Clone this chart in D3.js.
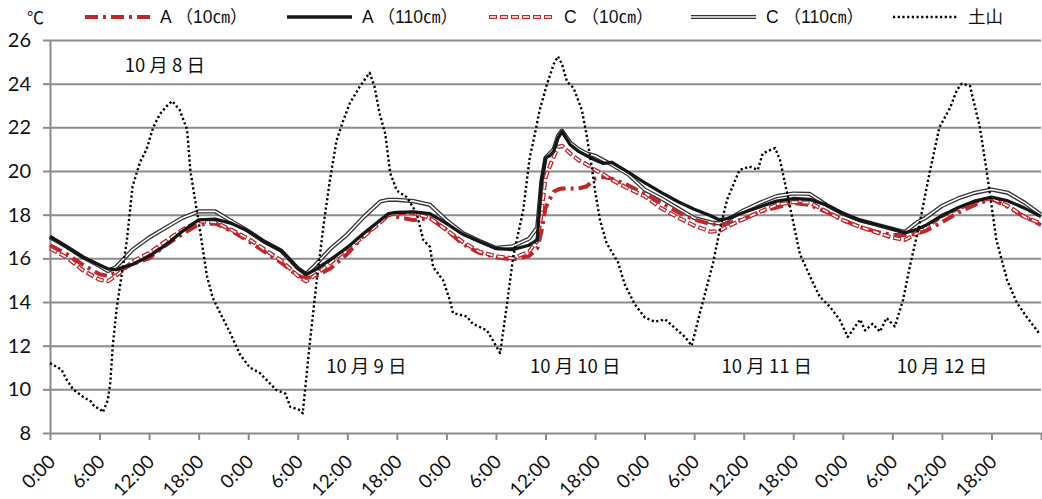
<!DOCTYPE html>
<html>
<head>
<meta charset="utf-8">
<script src="https://cdn.jsdelivr.net/npm/d3@7"></script>
<style>
    body { margin: 0; background: #fff; }
    text { fill: #111; }
</style>
</head>
<body>
<div id="main"></div>
<script>
// hours since 10/8 0:00
const soilHours = [0, 2, 4, 6, 7, 8, 10, 12, 14, 16, 18, 20, 22, 24, 26, 28, 30, 31, 32, 34, 36, 38, 40, 41, 42, 44, 46, 48,
    50, 52, 54, 56, 58, 59, 59.5, 60, 60.5, 61, 61.5, 62, 63, 64, 65, 66, 67, 68, 70, 72, 74, 76, 78, 80, 81, 82, 84,
    86, 88, 90, 92, 94, 96, 98, 100, 102, 103.5, 105, 106, 108, 110, 112, 114, 116, 118, 120];

const a10 = [16.6, 16.2, 15.7, 15.27, 15.2, 15.35, 15.75, 16.0, 16.6, 17.1, 17.55, 17.6, 17.25, 16.8, 16.3, 15.8, 15.2, 15.1, 15.15, 15.55, 16.2, 17.05, 17.65, 18.0, 17.9, 17.75, 17.85, 17.3,
    16.65, 16.25, 16.05, 15.95, 16.1, 16.45, 17.2, 18.3, 18.7, 19.05, 19.15, 19.2, 19.2, 19.2, 19.3, 19.65, 19.72, 19.65, 19.35, 18.95, 18.55, 18.12, 17.78, 17.57, 17.53, 17.58, 17.8,
    18.14, 18.33, 18.53, 18.45, 18.13, 17.75, 17.45, 17.22, 17.07, 17.07, 17.13, 17.25, 17.65, 18.1, 18.45, 18.72, 18.35, 17.9, 17.53];

const a110 = [17.0, 16.53, 16.05, 15.7, 15.52, 15.48, 15.72, 16.1, 16.6, 17.23, 17.76, 17.8, 17.6, 17.25, 16.75, 16.35, 15.55, 15.26, 15.45, 15.95, 16.5, 17.15, 17.75, 18.05, 18.1, 18.13, 18.05, 17.6,
    17.1, 16.77, 16.45, 16.4, 16.6, 16.85, 19.5, 20.6, 20.7, 20.9, 21.5, 21.8, 21.2, 20.9, 20.7, 20.5, 20.35, 20.4, 19.95, 19.47, 19.02, 18.6, 18.25, 17.95, 17.77, 17.82, 18.1,
    18.37, 18.62, 18.74, 18.7, 18.45, 18.05, 17.75, 17.55, 17.35, 17.17, 17.33, 17.5, 17.95, 18.33, 18.62, 18.8, 18.63, 18.3, 17.92];

const c10 = [16.45, 16.05, 15.45, 15.02, 14.95, 15.2, 15.85, 16.25, 16.78, 17.3, 17.7, 17.65, 17.3, 16.9, 16.4, 15.9, 15.2, 14.95, 15.2, 15.8, 16.45, 17.0, 17.65, 18.0, 18.07, 18.08, 17.85, 17.3,
    16.75, 16.3, 16.1, 16.0, 16.3, 16.8, 18.0, 19.7, 20.2, 20.65, 21.1, 21.15, 20.8, 20.5, 20.3, 20.05, 19.85, 19.6, 19.2, 18.85, 18.3, 17.88, 17.5, 17.22, 17.25, 17.45, 17.8,
    18.14, 18.45, 18.58, 18.55, 18.15, 17.75, 17.45, 17.2, 16.95, 16.84, 17.15, 17.4, 17.95, 18.28, 18.6, 18.75, 18.4, 17.9, 17.6];

const c110 = [16.97, 16.53, 16.05, 15.65, 15.42, 15.6, 16.4, 16.95, 17.4, 17.85, 18.15, 18.15, 17.7, 17.25, 16.75, 16.35, 15.55, 15.28, 15.65, 16.45, 17.1, 17.9, 18.6, 18.68, 18.68, 18.62, 18.45, 17.75,
    17.15, 16.8, 16.48, 16.55, 16.9, 17.4, 19.5, 20.6, 20.8, 21.0, 21.6, 21.85, 21.3, 21.0, 20.8, 20.7, 20.5, 20.3, 19.85, 19.15, 18.75, 18.3, 17.85, 17.65, 17.6, 17.75, 18.2,
    18.55, 18.85, 18.97, 18.95, 18.45, 18.05, 17.75, 17.55, 17.35, 17.2, 17.65, 17.85, 18.4, 18.75, 19.0, 19.15, 19.0, 18.55, 18.0];

const airHours = [0, 1.4, 2.0, 2.8, 4.0, 5.0, 5.4, 6.05, 6.4, 7.0, 7.3, 7.6, 8.1, 9.3, 10.0, 10.9, 11.7, 12.5, 13.3, 14.2, 14.8, 15.7, 16.6, 17.0, 17.6, 18.2, 19.0, 19.7,
    20.6, 21.8, 23.0, 24.2, 25.4, 27.4, 28.5, 29.1, 30.3, 30.6, 31.5, 32.3, 33.1, 33.9, 34.7, 35.5, 36.3, 37.5, 38.7, 39.3, 39.9, 40.6, 41.2, 42.0, 43.2, 44.4, 45.2, 46.0, 46.4, 47.6,
    48.4, 48.8, 50.5, 51.2, 52.9, 53.6, 54.5, 55.3, 56.1, 57.3, 58.1, 58.5, 59.3, 60.2, 61.0, 61.5, 62.0, 62.6, 63.4, 64.4, 65.0, 65.6, 66.0, 66.6, 67.4, 68.8, 69.6, 70.8,
    72.0, 73.2, 74.5, 75.7, 76.9, 77.7, 78.7, 80.3, 81.1, 82.0, 83.5, 84.7, 85.7, 86.3, 87.2, 87.8, 88.4, 89.0, 90.8, 92.0, 93.2, 94.4, 95.6, 96.6, 98.1, 98.7, 99.6,
    100.5, 101.3, 102.3, 103.3, 104.1, 105.3, 106.5, 107.7, 109.0, 109.8, 110.4, 111.4, 112.6, 113.4, 114.6, 115.9, 117.1, 118.3, 119.5, 119.9];

const airTemps = [11.2, 10.9, 10.45, 10.0, 9.66, 9.43, 9.2, 9.1, 8.95, 9.5, 10.3, 12.0, 13.8, 16.8, 19.3, 20.4, 21.0, 22.0, 22.6, 23.0, 23.2, 22.8, 21.9, 20.0, 18.6, 17.2, 15.2, 14.2,
    13.5, 12.6, 11.6, 11.0, 10.75, 9.97, 9.8, 9.2, 9.05, 8.9, 12.26, 15.0, 17.45, 19.6, 21.4, 22.3, 23.1, 23.86, 24.5, 23.86, 22.65, 21.7, 19.9, 19.1, 18.8, 18.07, 16.84, 16.53, 15.6, 15.0,
    14.1, 13.5, 13.33, 13.0, 12.7, 12.26, 11.66, 13.8, 16.1, 18.2, 20.65, 21.3, 22.8, 24.0, 24.9, 25.25, 24.9, 24.1, 23.8, 22.8, 21.6, 20.2, 19.1, 17.75, 16.7, 15.8, 14.8, 13.9,
    13.3, 13.1, 13.2, 12.8, 12.4, 12.0, 13.5, 15.8, 17.3, 18.7, 20.05, 20.2, 20.05, 20.8, 20.96, 21.05, 20.5, 19.45, 16.2, 15.2, 14.25, 13.8, 13.2, 12.4, 13.2, 12.7, 13.0,
    12.64, 13.27, 12.88, 14.1, 15.6, 17.6, 19.9, 22.0, 22.9, 23.7, 24.0, 23.9, 22.0, 20.05, 16.84, 15.0, 13.95, 13.3, 12.7, 12.5];

const yTicks = [8, 10, 12, 14, 16, 18, 20, 22, 24, 26];
const hourTicks = d3.range(0, 121, 6);
const timeLabels = ["0:00", "6:00", "12:00", "18:00"];

const dateLabels = ["10 月 8 日", "10 月 9 日", "10 月 10 日", "10 月 11 日", "10 月 12 日"];
const dateHours = [13.9, 38.3, 63.6, 86.8, 108.0];
const dateTemps = [24.85, 11.05, 11.05, 11.05, 11.05];

const legendNames = ["A （10㎝）", "A （110㎝）", "C （10㎝）", "C （110㎝）", "土山"];

const W = 1042, H = 499;
const plotLeft = 50, plotRight = 1041, plotTop = 40, plotBottom = 433;
const grey = "#8c8c8c";
const red = "#c0272d";

const svg = d3.select("#main").append("svg").attr("width", W).attr("height", H);

const x = d3.scaleLinear().domain([0, 120]).range([plotLeft, plotRight]);
const y = d3.scaleLinear().domain([8, 26]).range([plotBottom, plotTop]);

// gridlines
const grid = svg.append("g").attr("transform", `translate(${plotLeft},0)`)
    .call(d3.axisLeft(y).tickValues(yTicks.slice(1)).tickSize(-(plotRight - plotLeft)).tickFormat(""));
grid.select(".domain").remove();
grid.selectAll("line").attr("stroke", grey).attr("stroke-width", 2);

// y axis
const yAxis = svg.append("g").attr("transform", `translate(${plotLeft},0)`)
    .call(d3.axisLeft(y).tickValues(yTicks).tickSizeInner(7).tickSizeOuter(0).tickPadding(12));
yAxis.select(".domain").attr("stroke", grey).attr("stroke-width", 2);
yAxis.selectAll("line").attr("stroke", grey).attr("stroke-width", 2);
yAxis.selectAll("text").style("font-family", "Lato, 'Liberation Sans', sans-serif").style("font-size", "20px").attr("fill", "#111");

// x axis
const xAxis = svg.append("g").attr("transform", `translate(0,${plotBottom})`)
    .call(d3.axisBottom(x).tickValues(hourTicks).tickSizeInner(7).tickSizeOuter(0)
        .tickFormat((d) => d < 120 ? timeLabels[(d / 6) % 4] : ""));
xAxis.select(".domain").attr("stroke", grey).attr("stroke-width", 2);
xAxis.selectAll("line").attr("stroke", grey).attr("stroke-width", 2);
xAxis.selectAll("text")
    .attr("x", 0).attr("y", 0).attr("dy", 0)
    .attr("text-anchor", "end")
    .attr("transform", "translate(6,30) rotate(-45)")
    .style("font-family", "Lato, 'Liberation Sans', sans-serif")
    .style("font-size", "19px")
    .attr("fill", "#111");

// line styles, each a list of stroke layers
const styles = [
    [{ stroke: red, width: 4, dash: "13,5,3,5" }],
    [{ stroke: "#161616", width: 3.3 }],
    [{ stroke: red, width: 4.2, dash: "8,3" }, { stroke: "#fff", width: 1.6, dash: "6,5", offset: -1 }],
    [{ stroke: "#333", width: 4.2 }, { stroke: "#fff", width: 1.6 }],
    [{ stroke: "#000", width: 2.4, dash: "2.2,2.5" }]
];

const line = d3.line().x((d) => x(d[0])).y((d) => y(d[1]));

const series = [
    d3.zip(soilHours, a10),
    d3.zip(soilHours, a110),
    d3.zip(soilHours, c10),
    d3.zip(soilHours, c110),
    d3.zip(airHours, airTemps)
];

function addLayers(g, d, layers) {
    layers.forEach((s) => {
        g.append("path")
            .attr("d", d)
            .attr("fill", "none")
            .attr("stroke", s.stroke)
            .attr("stroke-width", s.width)
            .attr("stroke-dasharray", s.dash || null)
            .attr("stroke-dashoffset", s.offset || 0)
            .attr("stroke-linejoin", "round");
    });
}

// C(110) underneath so A(110) hides it where they coincide
const plot = svg.append("g");
[3, 0, 2, 1, 4].forEach((i) => {
    addLayers(plot.append("g").classed("series", true), line(series[i]), styles[i]);
});

// date labels
svg.append("g").selectAll("text").data(dateLabels).enter().append("text")
    .attr("x", (d, i) => x(dateHours[i]))
    .attr("y", (d, i) => y(dateTemps[i]))
    .attr("dy", "0.35em")
    .attr("text-anchor", "middle")
    .style("font-family", "'Noto Sans CJK JP', sans-serif")
    .style("font-size", "18.5px")
    .text((d) => d);

// legend
svg.append("text").attr("x", 27).attr("y", 24)
    .style("font-family", "'Noto Sans CJK JP', sans-serif").style("font-size", "17px").text("℃");

const legend = svg.append("g");
legendNames.forEach((name, i) => {
    const lx = 85 + i * 202;
    const g = legend.append("g");
    addLayers(g, `M${lx},17H${lx + 65}`, styles[i]);
    g.append("text")
        .attr("x", lx + 75).attr("y", 17).attr("dy", "0.35em")
        .style("font-family", "'Liberation Sans', 'Noto Sans CJK JP', sans-serif")
        .style("font-size", "17.5px")
        .text(name);
});
</script>
</body>
</html>
